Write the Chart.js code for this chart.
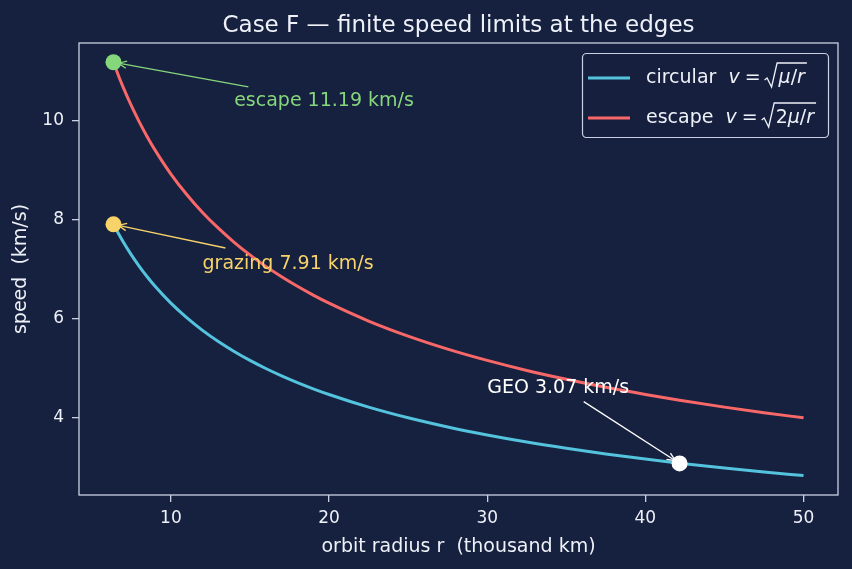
<!DOCTYPE html>
<html>
<head>
<meta charset="utf-8">
<script src="https://cdn.jsdelivr.net/npm/chart.js@4.4.0/dist/chart.umd.min.js"></script>
<style>
  html, body { margin: 0; padding: 0; background: #16203f; }
</style>
</head>
<body>
<canvas id="speedChart" width="852" height="569"></canvas>
<script>
// orbit radius (thousand km) and speeds (km/s)
const radius   = [6.371, 6.7, 7, 7.5, 8, 8.5, 9, 10, 11, 12, 13, 14, 15, 16, 17, 18, 19, 20, 22.5, 25, 27.5, 30, 32.5, 35, 37.5, 40, 42.164, 45, 47.5, 50];
const circular = [7.910, 7.713, 7.546, 7.290, 7.059, 6.848, 6.655, 6.313, 6.020, 5.763, 5.537, 5.336, 5.155, 4.991, 4.842, 4.706, 4.580, 4.464, 4.209, 3.993, 3.807, 3.645, 3.502, 3.375, 3.260, 3.157, 3.075, 2.976, 2.897, 2.823];
const escape   = [11.187, 10.908, 10.672, 10.310, 9.983, 9.684, 9.412, 8.928, 8.514, 8.150, 7.831, 7.546, 7.290, 7.058, 6.848, 6.655, 6.477, 6.313, 5.952, 5.647, 5.384, 5.155, 4.952, 4.773, 4.610, 4.465, 4.349, 4.209, 4.097, 3.992];

// marked points
const markLabels = ['escape 11.19 km/s', 'grazing 7.91 km/s', 'GEO 3.07 km/s'];
const markRadius = [6.371, 6.371, 42.164];
const markSpeed  = [11.19, 7.91, 3.07];

const xTicks = [10, 20, 30, 40, 50];
const yTicks = [4, 6, 8, 10];

const BG = '#16203f';
const FG = '#eef1f8';
const SPINE = '#c9d1e3';
const CYAN = '#54c3dd';
const RED = '#f96868';
const GREEN = '#86d67c';
const YELLOW = '#f7d36a';
const WHITE = '#ffffff';
const FONT = "'DejaVu Sans', sans-serif";

// where the annotation texts sit and where their arrows start (data coords)
const notes = [
  { text: [14, 10.3], tail: [14.9, 10.69], color: GREEN },
  { text: [12, 7.0],  tail: [13.45, 7.43], color: YELLOW },
  { text: [30, 4.5],  tail: [36.1, 4.32],  color: WHITE }
];

function drawArrow(ctx, x0, y0, x1, y1, color) {
  const a = Math.atan2(y1 - y0, x1 - x0);
  // stop just at the marker edge
  x1 -= Math.cos(a) * 5;
  y1 -= Math.sin(a) * 5;
  ctx.save();
  ctx.strokeStyle = color;
  ctx.lineWidth = 1.3;
  ctx.beginPath();
  ctx.moveTo(x0, y0);
  ctx.lineTo(x1, y1);
  ctx.stroke();
  const L = 9, s = 0.42;
  ctx.beginPath();
  ctx.moveTo(x1 - L * Math.cos(a - s), y1 - L * Math.sin(a - s));
  ctx.lineTo(x1, y1);
  ctx.lineTo(x1 - L * Math.cos(a + s), y1 - L * Math.sin(a + s));
  ctx.stroke();
  ctx.restore();
}

// draws "v = sqrt(...)" with an overline
function drawFormula(ctx, x, cy, inner) {
  const up = '19px ' + FONT;
  const it = 'italic 19px ' + FONT;
  ctx.font = it;
  ctx.fillText('v', x, cy);
  x += ctx.measureText('v').width + 5;
  ctx.font = up;
  ctx.fillText('=', x, cy);
  x += ctx.measureText('=').width + 4;
  // radical sign
  const rx = x;
  ctx.save();
  ctx.strokeStyle = FG;
  ctx.lineWidth = 1.3;
  ctx.beginPath();
  ctx.moveTo(rx, cy + 2);
  ctx.lineTo(rx + 2.5, cy);
  ctx.lineTo(rx + 7, cy + 9);
  ctx.lineTo(rx + 12.5, cy - 15);
  let cx = rx + 14;
  let w = 0;
  inner.forEach(p => { ctx.font = p.it ? it : up; w += ctx.measureText(p.t).width; });
  ctx.lineTo(cx + w + 2, cy - 15);
  ctx.stroke();
  ctx.restore();
  inner.forEach(p => {
    ctx.font = p.it ? it : up;
    ctx.fillText(p.t, cx, cy);
    cx += ctx.measureText(p.t).width;
  });
}

const decor = {
  id: 'decor',
  beforeDraw(chart) {
    const ctx = chart.ctx;
    ctx.save();
    ctx.fillStyle = BG;
    ctx.fillRect(0, 0, chart.width, chart.height);
    ctx.restore();
  },
  afterDraw(chart) {
    const ctx = chart.ctx;
    const a = chart.chartArea;
    const xs = chart.scales.x, ys = chart.scales.y;

    // frame
    ctx.save();
    ctx.strokeStyle = SPINE;
    ctx.lineWidth = 1.3;
    ctx.strokeRect(a.left, a.top, a.right - a.left, a.bottom - a.top);

    // title
    ctx.fillStyle = FG;
    ctx.font = '23px ' + FONT;
    ctx.textAlign = 'center';
    ctx.textBaseline = 'alphabetic';
    ctx.fillText('Case F \u2014 finite speed limits at the edges', (a.left + a.right) / 2, 32);

    // annotations
    ctx.textAlign = 'left';
    notes.forEach((n, i) => {
      const px = xs.getPixelForValue(markRadius[i]);
      const py = ys.getPixelForValue(markSpeed[i]);
      drawArrow(ctx, xs.getPixelForValue(n.tail[0]), ys.getPixelForValue(n.tail[1]), px, py, n.color);
      ctx.fillStyle = n.color;
      ctx.font = '19px ' + FONT;
      ctx.fillText(markLabels[i], xs.getPixelForValue(n.text[0]), ys.getPixelForValue(n.text[1]));
    });

    // legend
    const lx = 582.5, ly = 53.5, lw = 246, lh = 84;
    ctx.beginPath();
    ctx.roundRect(lx, ly, lw, lh, 4);
    ctx.fillStyle = 'rgba(22,32,63,0.8)';
    ctx.fill();
    ctx.strokeStyle = SPINE;
    ctx.lineWidth = 1.2;
    ctx.stroke();
    const rows = [
      { color: CYAN, name: 'circular', inner: [{ t: '\u03bc', it: true }, { t: '/' }, { t: 'r', it: true }] },
      { color: RED, name: 'escape', inner: [{ t: '2' }, { t: '\u03bc', it: true }, { t: '/' }, { t: 'r', it: true }] }
    ];
    ctx.textBaseline = 'middle';
    rows.forEach((r, i) => {
      const cy = 78 + i * 40;
      ctx.strokeStyle = r.color;
      ctx.lineWidth = 3;
      ctx.beginPath();
      ctx.moveTo(588, cy);
      ctx.lineTo(630, cy);
      ctx.stroke();
      ctx.fillStyle = FG;
      ctx.font = '19px ' + FONT;
      ctx.fillText(r.name, 646, cy);
      const tx = 646 + ctx.measureText(r.name + '  ').width;
      drawFormula(ctx, tx, cy, r.inner);
    });
    ctx.restore();
  }
};

const axisCommon = {
  type: 'linear',
  grid: { drawOnChartArea: false, drawTicks: true, tickLength: 7, color: SPINE, lineWidth: 1.3 },
  border: { display: false },
  ticks: { color: FG, font: { family: FONT, size: 17 } }
};

new Chart(document.getElementById('speedChart').getContext('2d'), {
  type: 'scatter',
  data: {
    datasets: [
      {
        label: 'marks',
        data: markRadius.map((r, i) => ({ x: r, y: markSpeed[i] })),
        pointRadius: 8,
        pointBackgroundColor: [GREEN, YELLOW, WHITE],
        pointBorderWidth: 0,
        showLine: false,
        order: 0
      },
      {
        label: 'circular',
        data: radius.map((r, i) => ({ x: r, y: circular[i] })),
        borderColor: CYAN,
        borderWidth: 3,
        pointRadius: 0,
        showLine: true,
        cubicInterpolationMode: 'monotone',
        order: 1
      },
      {
        label: 'escape',
        data: radius.map((r, i) => ({ x: r, y: escape[i] })),
        borderColor: RED,
        borderWidth: 3,
        pointRadius: 0,
        showLine: true,
        cubicInterpolationMode: 'monotone',
        order: 2
      }
    ]
  },
  options: {
    responsive: false,
    animation: false,
    layout: { padding: { top: 43, right: 14, left: 0, bottom: 0 } },
    plugins: { legend: { display: false }, title: { display: false }, tooltip: { enabled: false } },
    scales: {
      x: {
        ...axisCommon,
        min: 4.19,
        max: 52.18,
        afterBuildTicks: s => { s.ticks = xTicks.map(v => ({ value: v })); },
        afterFit: s => { s.height = 74; },
        ticks: { ...axisCommon.ticks, padding: 6 },
        title: { display: true, text: 'orbit radius r  (thousand km)', color: FG, font: { family: FONT, size: 19 }, padding: { top: 4, bottom: 11 } }
      },
      y: {
        ...axisCommon,
        min: 2.43,
        max: 11.58,
        afterBuildTicks: s => { s.ticks = yTicks.map(v => ({ value: v })); },
        afterFit: s => { s.width = 79; },
        ticks: { ...axisCommon.ticks, padding: 8 },
        title: { display: true, text: 'speed  (km/s)', color: FG, font: { family: FONT, size: 19 }, padding: { top: 10, bottom: 4 } }
      }
    }
  },
  plugins: [decor]
});
</script>
</body>
</html>
